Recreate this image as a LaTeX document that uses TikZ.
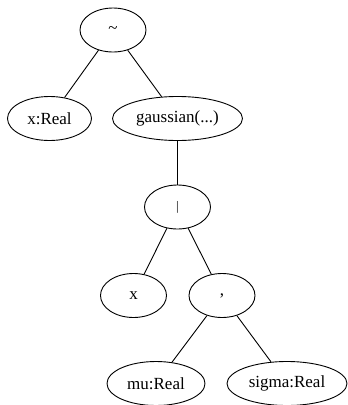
\documentclass[tikz,border=0pt]{standalone}
\usepackage{fontspec}
\setmainfont{Liberation Serif}
\usetikzlibrary{shapes.geometric}
\begin{document}
\begin{tikzpicture}[x=1pt,y=-1pt,
  tnode/.style={draw, ellipse, inner sep=0pt, minimum height=44pt, line width=0.9pt, fill=white, font=\fontsize{17}{20}\selectfont},
  edge/.style={line width=0.9pt}]
\useasboundingbox (0,0) rectangle (348,405);
\node[tnode, minimum width=66pt] (tilde) at (113,30) {\raisebox{-4pt}{\char"7E}};
\node[tnode, minimum width=84pt] (xreal) at (49.5,118.5) {x:Real};
\node[tnode, minimum width=130pt] (gauss) at (177.5,118.5) {gaussian(...)};
\node[tnode, minimum width=66pt] (bar) at (177.5,207) {\fontsize{13}{15}\selectfont |};
\node[tnode, minimum width=66pt] (x) at (133.5,295.5) {x};
\node[tnode, minimum width=66pt] (comma) at (222,295.5) {,};
\node[tnode, minimum width=98pt] (mu) at (156,383.5) {mu:Real};
\node[tnode, minimum width=120pt] (sigma) at (287,383.5) {sigma:Real};
\draw[edge] (tilde) -- (xreal);
\draw[edge] (tilde) -- (gauss);
\draw[edge] (gauss) -- (bar);
\draw[edge] (bar) -- (x);
\draw[edge] (bar) -- (comma);
\draw[edge] (comma) -- (mu);
\draw[edge] (comma) -- (sigma);
\end{tikzpicture}
\end{document}
